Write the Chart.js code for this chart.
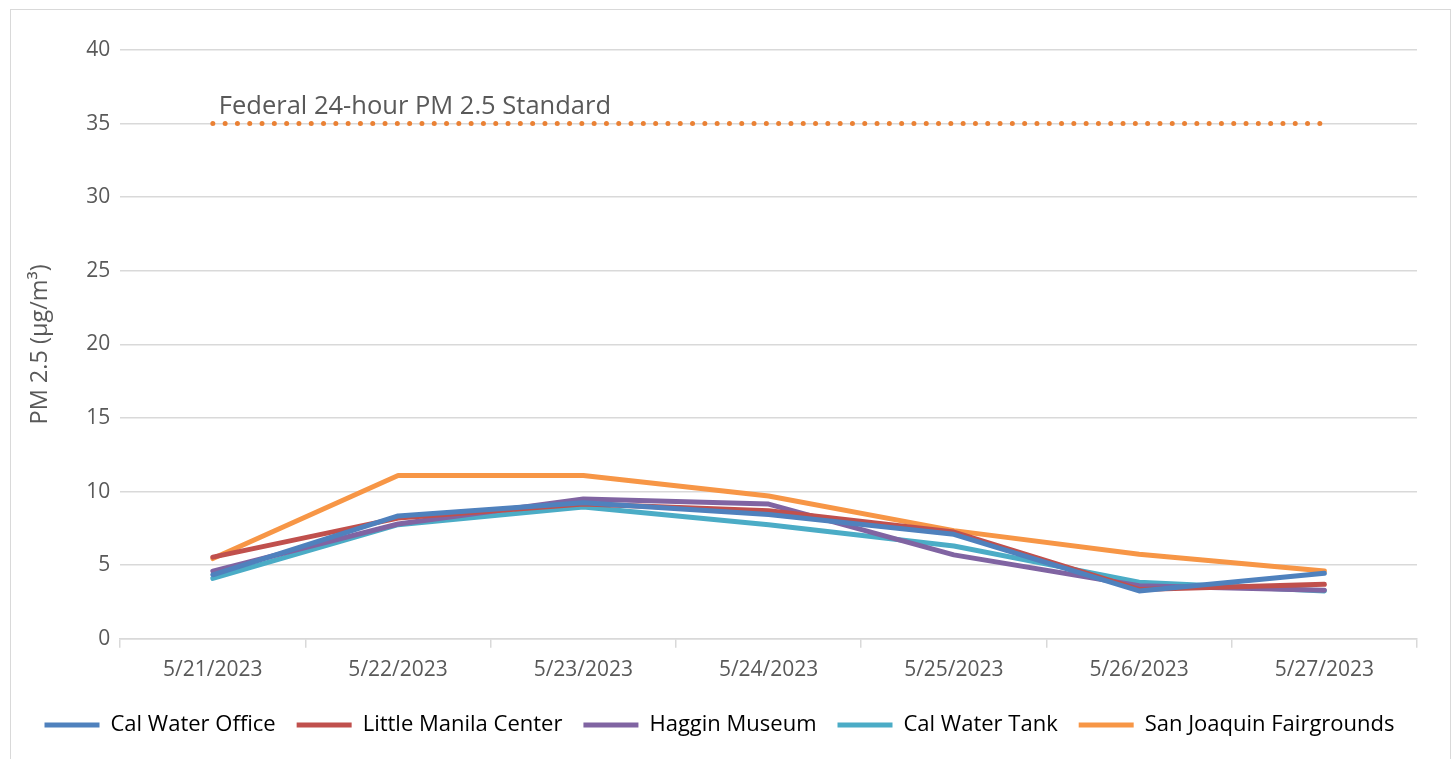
<!DOCTYPE html>
<html>
<head>
<meta charset="utf-8">
<script src="https://cdn.jsdelivr.net/npm/chart.js@4.4.1/dist/chart.umd.min.js"></script>
<style>
  html, body { margin: 0; padding: 0; background: #fff; overflow: hidden; }
  #frame { position: absolute; left: 10px; top: 9px; width: 1441px; height: 770px; border: 1.5px solid #d9d9d9; box-sizing: border-box; }
  #wrap { position: absolute; left: 0; top: 0; width: 1455px; height: 759px; }
</style>
</head>
<body>
<div id="frame"></div>
<div id="wrap"><canvas id="chart"></canvas></div>
<script>
const days = ["5/21/2023", "5/22/2023", "5/23/2023", "5/24/2023", "5/25/2023", "5/26/2023", "5/27/2023"];
const calWaterOffice = [4.35, 8.35, 9.25, 8.45, 7.1, 3.25, 4.45];
const littleManila = [5.55, 8.2, 9.15, 8.7, 7.25, 3.35, 3.7];
const hagginMuseum = [4.6, 7.8, 9.5, 9.15, 5.7, 3.6, 3.3];
const calWaterTank = [4.1, 7.75, 8.95, 7.75, 6.3, 3.85, 3.25];
const fairgrounds = [5.45, 11.1, 11.1, 9.7, 7.35, 5.75, 4.6];
const federalStd = [35, 35, 35, 35, 35, 35, 35];
const standardLabel = "Federal 24-hour PM 2.5 Standard";

const FONT = "'Open Sans', 'DejaVu Sans', sans-serif";
const TEXT = "#595959";

function series(label, data, c) {
  return {
    label, data,
    borderColor: c, backgroundColor: c,
    borderWidth: 5, borderCapStyle: "round", borderJoinStyle: "round",
    pointRadius: 0, tension: 0,
  };
}

// label sitting just above the dotted standard line
const standardText = {
  id: "standardText",
  afterDatasetsDraw(chart) {
    const x = chart.scales.x, y = chart.scales.y, ctx = chart.ctx;
    ctx.save();
    ctx.font = "25.5px " + FONT;
    ctx.fillStyle = TEXT;
    ctx.textBaseline = "alphabetic";
    ctx.fillText(standardLabel, x.getPixelForValue(0) + 6, y.getPixelForValue(35) - 10);
    ctx.restore();
  }
};

new Chart(document.getElementById("chart"), {
  type: "line",
  data: {
    labels: days,
    datasets: [
      series("Cal Water Office", calWaterOffice, "#4f81bd"),
      series("Little Manila Center", littleManila, "#c0504d"),
      series("Haggin Museum", hagginMuseum, "#8064a2"),
      series("Cal Water Tank", calWaterTank, "#4bacc6"),
      series("San Joaquin Fairgrounds", fairgrounds, "#f79646"),
      {
        label: "Federal Standard", data: federalStd,
        borderColor: "#ea8134", borderWidth: 5, borderDash: [0, 12.3], borderCapStyle: "round",
        pointRadius: 0, tension: 0,
      },
    ],
  },
  options: {
    responsive: true,
    maintainAspectRatio: false,
    animation: false,
    layout: { padding: { left: 22, right: 38, top: 50, bottom: 13 } },
    plugins: {
      tooltip: { enabled: false },
      legend: {
        position: "bottom",
        labels: {
          filter: item => item.datasetIndex < 5,
          usePointStyle: true,
          pointStyle: "line",
          pointStyleWidth: 55,
          color: "#000",
          font: { family: FONT, size: 22 },
          padding: 21,
        },
      },
    },
    scales: {
      x: {
        offset: true,
        grid: { offset: true, drawOnChartArea: false, color: "#d9d9d9", tickLength: 9, lineWidth: 1.5 },
        border: { color: "#d9d9d9", width: 1.5 },
        ticks: { color: TEXT, font: { family: FONT, size: 21 }, padding: 10, maxRotation: 0 },
      },
      y: {
        min: 0, max: 40,
        ticks: { stepSize: 5, color: TEXT, font: { family: FONT, size: 21 }, padding: 10 },
        grid: { color: "#d9d9d9", lineWidth: 1.5, drawTicks: false },
        border: { display: false },
        title: { display: true, text: "PM 2.5 (µg/m³)", color: TEXT, font: { family: FONT, size: 23.5 }, padding: { top: 4, bottom: 22 } },
      },
    },
  },
  plugins: [standardText],
});
</script>
</body>
</html>
